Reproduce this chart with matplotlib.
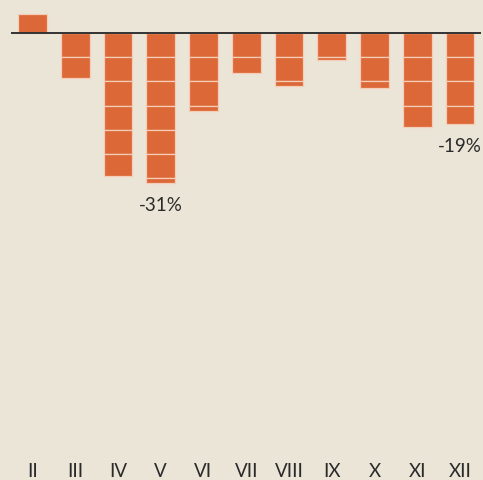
import matplotlib.pyplot as plt

# monthly change, percent
months = ['II', 'III', 'IV', 'V', 'VI', 'VII', 'VIII', 'IX', 'X', 'XI', 'XII']
change = [3.9, -9.4, -29.6, -31.0, -16.1, -8.2, -10.9, -5.5, -11.3, -19.4, -18.8]
labelled = {'V': '-31%', 'XII': '-19%'}
step = 5  # each block in a bar is 5 points

bg = '#EBE5D7'
bar_color = '#DD6837'
edge_color = '#F4CDB9'

plt.rcParams['font.family'] = ['Lato', 'DejaVu Sans']

fig = plt.figure(figsize=(4.83, 4.81), dpi=100, facecolor=bg)
ax = fig.add_axes([0, 26 / 481, 1, 455 / 481])
ax.set_facecolor(bg)

x = list(range(len(months)))

# draw each bar as a stack of 5-point blocks
for xi, v in zip(x, change):
    sign = 1 if v >= 0 else -1
    remaining = abs(v)
    base = 0.0
    while remaining > 1e-9:
        h = min(step, remaining)
        ax.bar(xi, sign * h, bottom=base, width=0.67, color=bar_color,
               edgecolor=edge_color, linewidth=0.9, zorder=2)
        base += sign * h
        remaining -= h

# zero line
ax.hlines(0, -0.5, 10.49, color='#333333', linewidth=1.4, zorder=3)

# value labels under the chosen bars
for xi, m, v in zip(x, months, change):
    if m in labelled:
        ax.annotate(labelled[m], (xi, v), xytext=(0, -15.5), textcoords='offset points',
                    ha='center', va='center', fontsize=13.5, color='#2a2a2a')

ax.set_xlim(-0.76, 10.538)
ax.set_ylim(-87.15, 7.05)
ax.set_xticks(x)
ax.set_xticklabels(months, fontsize=13.5, color='#2a2a2a')
ax.tick_params(axis='x', length=0, pad=6)
ax.set_yticks([])
for s in ax.spines.values():
    s.set_visible(False)

fig.savefig('out.png', dpi=100, facecolor=bg)
